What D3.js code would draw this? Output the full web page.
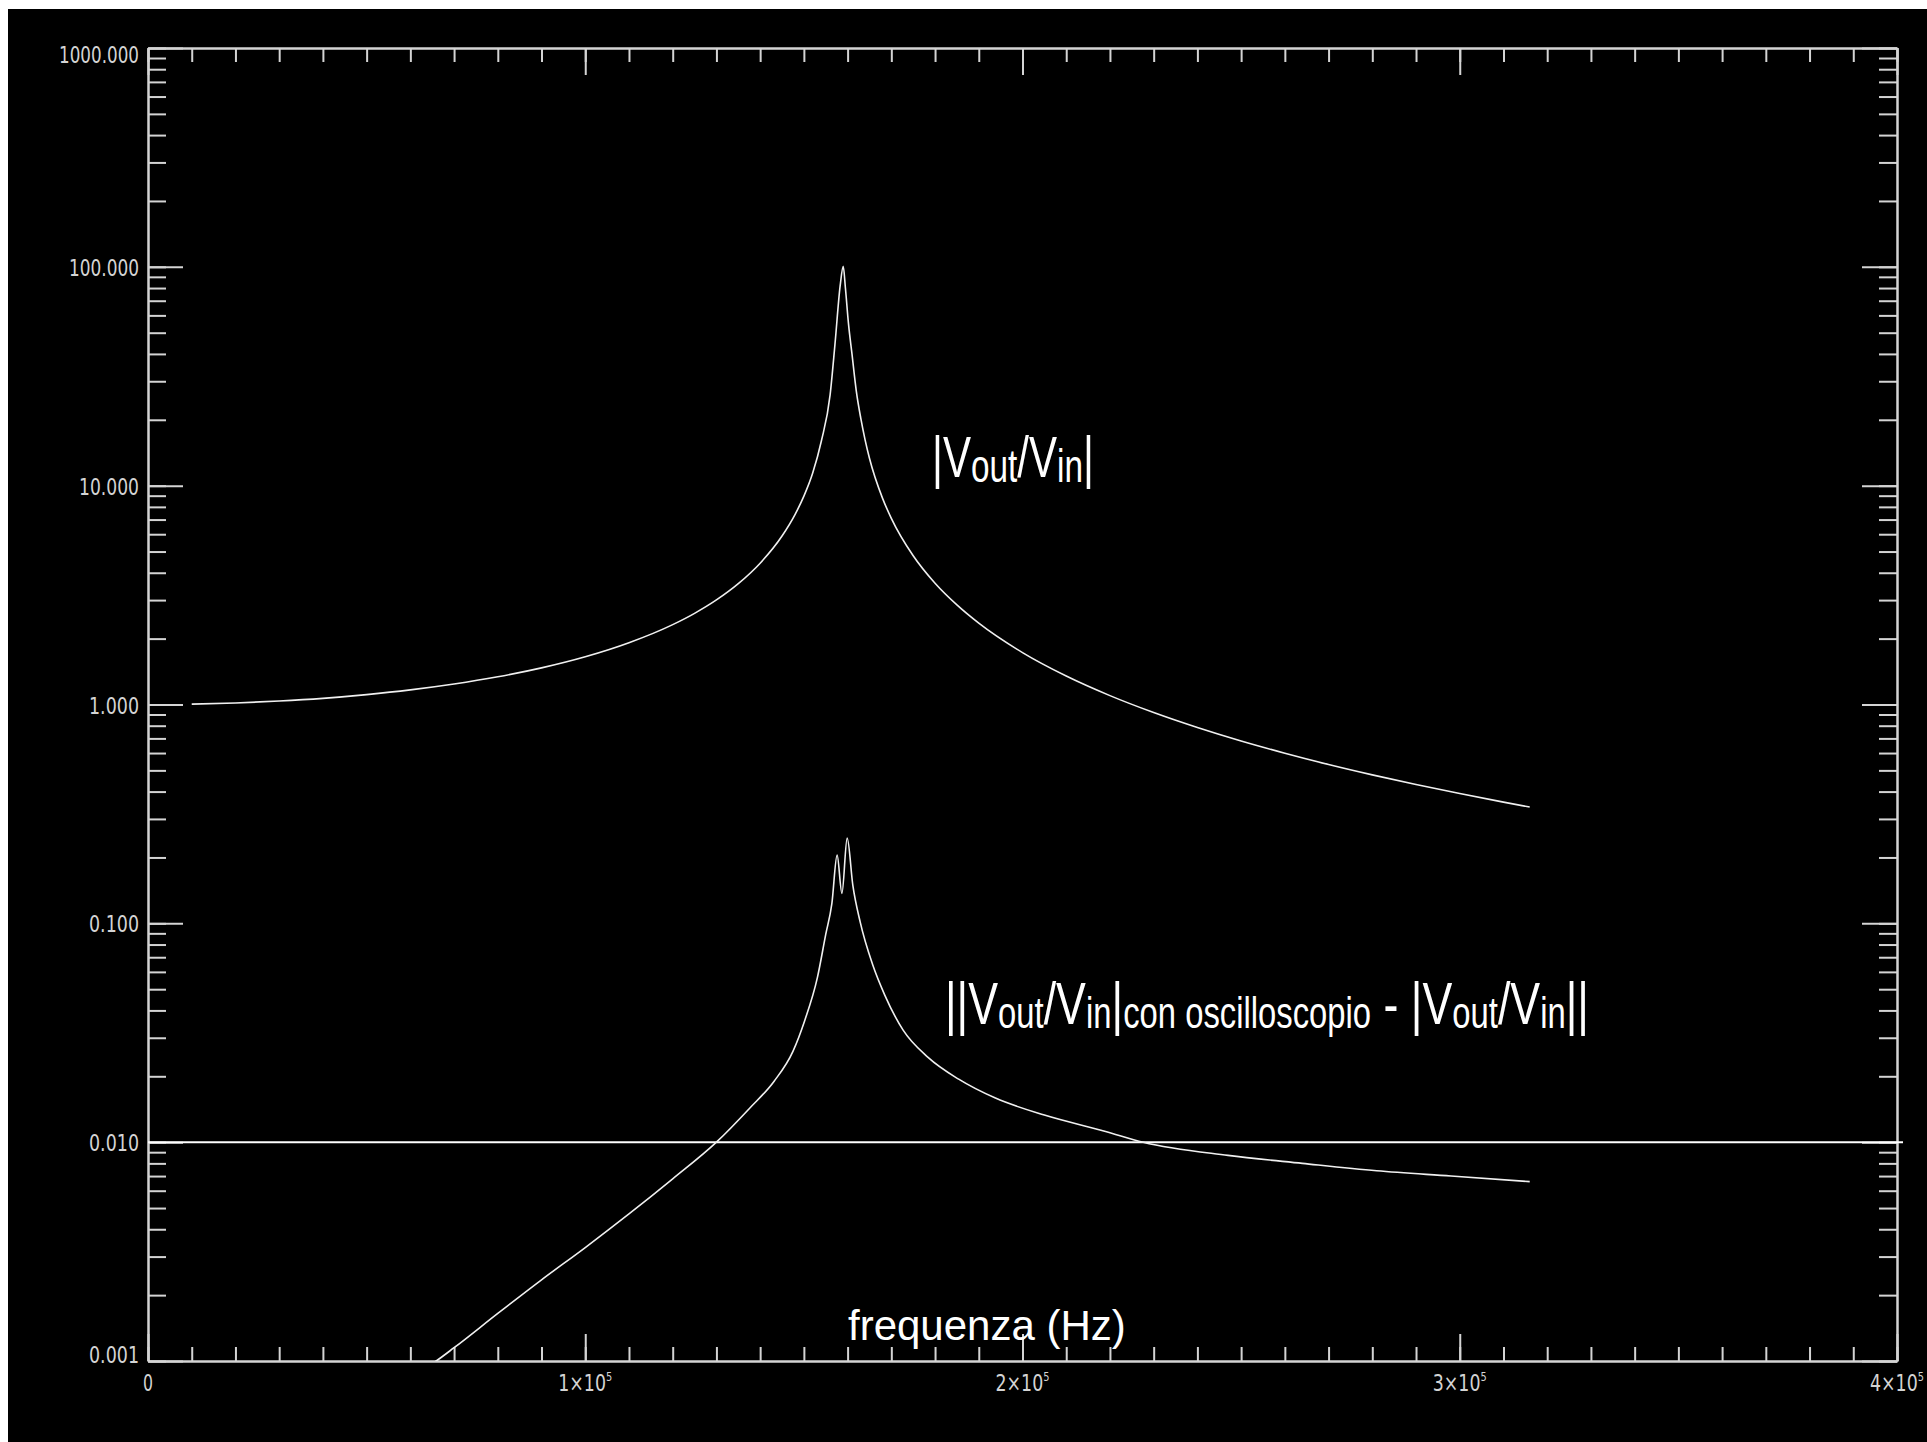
<!DOCTYPE html>
<html>
<head>
<meta charset="utf-8">
<script src="https://d3js.org/d3.v7.min.js"></script>
<style>
  body { margin: 0; background: #fff; }
  svg { display: block; }
</style>
</head>
<body>
<script>
// |Vout/Vin| (upper curve), frequency in Hz
var freqGain = [10000, 20000, 30000, 40000, 50000, 60000, 70000, 80000, 90000, 100000,
  110000, 120000, 125000, 130000, 135000, 140000, 145000, 148000, 150000, 152000,
  154000, 156000, 157100, 158300, 159000, 159500, 160200, 161000, 162000, 163000,
  164000, 165000, 168000, 170000, 175000, 180000, 185000, 190000, 200000, 210000,
  220000, 230000, 240000, 250000, 260000, 270000, 280000, 290000, 300000, 310000, 316000];
var gain = [1.004, 1.016, 1.037, 1.067, 1.110, 1.166, 1.240, 1.338, 1.470, 1.652,
  1.915, 2.317, 2.610, 3.005, 3.566, 4.423, 5.886, 7.395, 8.953, 11.39,
  16.0, 26.0, 44.0, 82.0, 100.5, 80.0, 55.0, 40.0, 27.0, 20.4,
  16.2, 13.35, 8.75, 7.09, 4.78, 3.58, 2.85, 2.352, 1.726, 1.349,
  1.098, 0.919, 0.785, 0.681, 0.599, 0.532, 0.477, 0.431, 0.392, 0.358, 0.340];

// ||Vout/Vin| con oscilloscopio - |Vout/Vin|| (lower curve)
var freqDiff = [60000, 65900, 70000, 80000, 90000, 100000, 110000, 120000, 130000, 137600,
  143200, 147500, 150200, 153100, 155000, 156400, 157600, 158700, 159900, 161200,
  162900, 165700, 168500, 172700, 178400, 185400, 193800, 205000, 219000, 227600,
  247000, 264000, 281000, 298000, 316000];
var diff = [0.00085, 0.0010, 0.00115, 0.00165, 0.00235, 0.0033, 0.0047, 0.0068, 0.0100, 0.0143,
  0.0190, 0.026, 0.036, 0.0566, 0.089, 0.123, 0.205, 0.137, 0.245, 0.149,
  0.101, 0.065, 0.047, 0.0325, 0.0244, 0.0194, 0.0159, 0.0133, 0.0112, 0.0100,
  0.0087, 0.0080, 0.0074, 0.0070, 0.0066];

var refLevel = 0.01;

var yTickValues = [0.001, 0.01, 0.1, 1, 10, 100, 1000];
var yTickLabels = ["0.001", "0.010", "0.100", "1.000", "10.000", "100.000", "1000.000"];
var xTickValues = [0, 100000, 200000, 300000, 400000];
var xTickMant = ["0", "1×10", "2×10", "3×10", "4×10"];
var xTickExp = ["", "5", "5", "5", "5"];

var W = 1927, H = 1442;
var plotL = 148, plotR = 1897, plotT = 48, plotB = 1361;
var axisColor = "#d4d4d4";

var svg = d3.select("body").append("svg")
  .attr("width", W)
  .attr("height", H);

svg.append("rect")
  .attr("x", 8).attr("y", 9)
  .attr("width", W - 8).attr("height", H - 9)
  .style("fill", "#000");

var x = d3.scaleLinear().domain([0, 400000]).range([plotL, plotR]);
var y = d3.scaleLog().domain([0.001, 1000]).range([plotB, plotT]);

svg.append("clipPath").attr("id", "plotclip")
  .append("rect")
  .attr("x", plotL).attr("y", plotT)
  .attr("width", plotR - plotL).attr("height", plotB - plotT);

var minorX = d3.range(0, 400001, 10000);
var minorY = y.ticks();

function styleAxis(g) {
  g.selectAll("path, line").attr("stroke", axisColor).attr("stroke-width", 2);
  g.selectAll("text").remove();
}

// bottom + top axes
svg.append("g").attr("transform", "translate(0," + plotB + ")")
  .call(d3.axisBottom(x).tickValues(minorX).tickSizeInner(-14).tickSizeOuter(0).tickFormat(""))
  .call(styleAxis);
svg.append("g").attr("transform", "translate(0," + plotB + ")")
  .call(d3.axisBottom(x).tickValues(xTickValues).tickSizeInner(-27).tickSizeOuter(0).tickFormat(""))
  .call(styleAxis);
svg.append("g").attr("transform", "translate(0," + plotT + ")")
  .call(d3.axisTop(x).tickValues(minorX).tickSizeInner(-14).tickSizeOuter(0).tickFormat(""))
  .call(styleAxis);
svg.append("g").attr("transform", "translate(0," + plotT + ")")
  .call(d3.axisTop(x).tickValues(xTickValues).tickSizeInner(-27).tickSizeOuter(0).tickFormat(""))
  .call(styleAxis);

// left + right axes
svg.append("g").attr("transform", "translate(" + plotL + ",0)")
  .call(d3.axisLeft(y).tickValues(minorY).tickSizeInner(-18).tickSizeOuter(0).tickFormat(""))
  .call(styleAxis);
svg.append("g").attr("transform", "translate(" + plotL + ",0)")
  .call(d3.axisLeft(y).tickValues(yTickValues).tickSizeInner(-35).tickSizeOuter(0).tickFormat(""))
  .call(styleAxis);
svg.append("g").attr("transform", "translate(" + plotR + ",0)")
  .call(d3.axisRight(y).tickValues(minorY).tickSizeInner(-18).tickSizeOuter(0).tickFormat(""))
  .call(styleAxis);
svg.append("g").attr("transform", "translate(" + plotR + ",0)")
  .call(d3.axisRight(y).tickValues(yTickValues).tickSizeInner(-35).tickSizeOuter(0).tickFormat(""))
  .call(styleAxis);

// y tick labels
svg.append("g").selectAll("text")
  .data(yTickValues)
  .enter().append("text")
  .attr("x", 139)
  .attr("y", function(d, i) {
    var off = 9;
    if (i === 0) off = 2;
    if (i === yTickValues.length - 1) off = 15;
    return y(d) + off;
  })
  .attr("text-anchor", "end")
  .attr("textLength", function(d, i) { return yTickLabels[i].length * 10; })
  .attr("lengthAdjust", "spacingAndGlyphs")
  .style("font-family", "DejaVu Sans")
  .style("font-size", "23px")
  .style("fill", axisColor)
  .text(function(d, i) { return yTickLabels[i]; });

// x tick labels
var xl = svg.append("g").selectAll("text")
  .data(xTickValues)
  .enter().append("text")
  .attr("x", function(d) { return x(d); })
  .attr("y", 1391)
  .attr("text-anchor", "middle")
  .attr("textLength", function(d, i) { return i === 0 ? 10 : 54; })
  .attr("lengthAdjust", "spacingAndGlyphs")
  .style("font-family", "DejaVu Sans")
  .style("font-size", "23px")
  .style("fill", axisColor);
xl.append("tspan").text(function(d, i) { return xTickMant[i]; });
xl.append("tspan")
  .attr("dy", -10)
  .style("font-size", "13px")
  .text(function(d, i) { return xTickExp[i]; });

// reference level line
svg.append("line")
  .attr("x1", x(0)).attr("x2", plotR + 6)
  .attr("y1", y(refLevel)).attr("y2", y(refLevel))
  .attr("stroke", "#fff")
  .attr("stroke-width", 2);

// curves
var plot = svg.append("g").attr("clip-path", "url(#plotclip)");

var line = d3.line()
  .x(function(d) { return x(d[0]); })
  .y(function(d) { return y(d[1]); })
  .curve(d3.curveMonotoneX);

plot.append("path")
  .datum(d3.zip(freqGain, gain))
  .attr("d", line)
  .attr("fill", "none")
  .attr("stroke", "#f0f0f0")
  .attr("stroke-width", 1.6);

plot.append("path")
  .datum(d3.zip(freqDiff, diff))
  .attr("d", line)
  .attr("fill", "none")
  .attr("stroke", "#f0f0f0")
  .attr("stroke-width", 1.6);

// annotations
var lab1 = svg.append("text")
  .attr("x", 932).attr("y", 477)
  .attr("textLength", 162)
  .attr("lengthAdjust", "spacingAndGlyphs")
  .style("font-family", "Liberation Sans")
  .style("font-size", "58px")
  .style("fill", "#fff");
lab1.append("tspan").text("|V");
lab1.append("tspan").attr("dy", 5).style("font-size", "46px").text("out");
lab1.append("tspan").attr("dy", -5).text("/V");
lab1.append("tspan").attr("dy", 5).style("font-size", "46px").text("in");
lab1.append("tspan").attr("dy", -5).text("|");

var lab2 = svg.append("text")
  .attr("x", 945).attr("y", 1024)
  .attr("textLength", 644)
  .attr("lengthAdjust", "spacingAndGlyphs")
  .style("font-family", "Liberation Sans")
  .style("font-size", "60px")
  .style("fill", "#fff");
lab2.append("tspan").text("||V");
lab2.append("tspan").attr("dy", 4).style("font-size", "44px").text("out");
lab2.append("tspan").attr("dy", -4).text("/V");
lab2.append("tspan").attr("dy", 4).style("font-size", "44px").text("in");
lab2.append("tspan").attr("dy", -4).text("|");
lab2.append("tspan").attr("dy", 4).style("font-size", "44px").text("con oscilloscopio");
lab2.append("tspan").attr("dy", -4).text(" - |V");
lab2.append("tspan").attr("dy", 4).style("font-size", "44px").text("out");
lab2.append("tspan").attr("dy", -4).text("/V");
lab2.append("tspan").attr("dy", 4).style("font-size", "44px").text("in");
lab2.append("tspan").attr("dy", -4).text("||");

svg.append("text")
  .attr("x", 848).attr("y", 1340)
  .style("font-family", "Liberation Sans")
  .style("font-size", "42px")
  .style("fill", "#fff")
  .text("frequenza (Hz)");
</script>
</body>
</html>
